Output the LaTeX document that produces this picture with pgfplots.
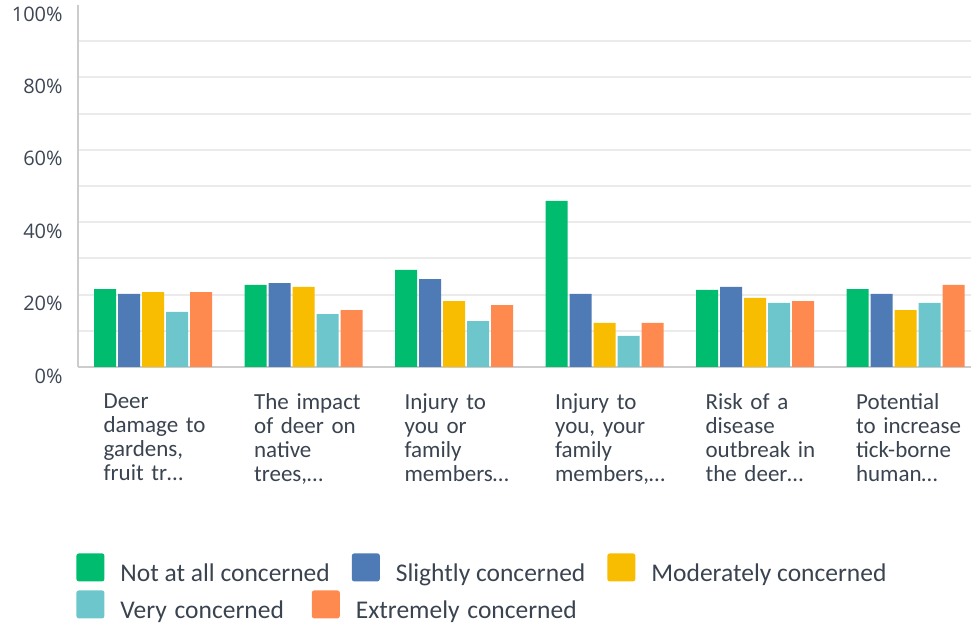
\documentclass[border=0pt]{standalone}
\usepackage{pgfplots}
\pgfplotsset{compat=1.18}
\usepackage{fontspec}
\setmainfont{Carlito}
\newfontfamily\tickfont{Open Sans}
\definecolor{cgreen}{HTML}{00BC6E}
\definecolor{cblue}{HTML}{4E7AB5}
\definecolor{cyellow}{HTML}{F8BC00}
\definecolor{cteal}{HTML}{6CC6CB}
\definecolor{corange}{HTML}{FF8A50}
\definecolor{gridgray}{HTML}{EBEBEB}
\definecolor{axisgray}{HTML}{CCCCCC}
\definecolor{tickcol}{HTML}{3D4654}
\definecolor{labcol}{HTML}{3A4350}
\pgfplotsset{
  swatch legend/.style={legend image code/.code={%
    \fill[##1, draw=none, rounded corners=1.2pt] (0pt,-3.5pt) rectangle (14pt,10.5pt);}},
  mybar/.style={ybar, bar width=11pt, draw=none, swatch legend},
  mylegend/.style={draw=none, fill=none, inner sep=0pt, cells={anchor=west},
    nodes={inner sep=0pt}, font=\fontsize{12.75}{15}\selectfont, text=labcol,
    /tikz/every odd column/.append style={column sep=8pt}}
}
\begin{document}
\begin{tikzpicture}
\useasboundingbox (-39pt,-129pt) rectangle (446.5pt,183.5pt);
\begin{axis}[
  at={(0,0)}, anchor=south west,
  scale only axis, width=446.5pt, height=181pt,
  xmin=0, xmax=5.934, ymin=0, ymax=100,
  axis x line=bottom, axis y line=left,
  axis line style={-, draw=axisgray, line width=1pt},
  ytick={0,20,40,60,80,100},
  yticklabels={0\%,20\%,40\%,60\%,80\%,100\%},
  minor ytick={10,20,30,40,50,60,70,80,90}, yminorgrids,
  minor grid style={draw=gridgray, line width=1pt},
  major tick length=0pt, minor tick length=0pt,
  yticklabel style={font=\tickfont\fontsize{10}{12}\selectfont, text=tickcol,
    anchor=east, inner sep=0pt, xshift=-7.5pt, yshift=-4.5pt},
  xtick={0.5,1.5,2.5,3.5,4.5,5.5},
  xticklabels={
    {Deer\\damage to\\gardens,\\fruit tr…},
    {The impact\\of deer on\\native\\trees,…},
    {Injury to\\you or\\family\\members…},
    {Injury to\\you, your\\family\\members,…},
    {Risk of a\\disease\\outbreak in\\the deer…},
    {Potential\\to increase\\tick-borne\\human…}},
  xticklabel style={font=\fontsize{11.5}{12}\selectfont, text=labcol,
    anchor=north west, align=left, text width=62pt, inner sep=0pt,
    xshift=-25pt, yshift=-13pt},
  legend columns=3,
  legend style={mylegend, at={(-0.00224,-0.5138)}, anchor=north west,
    /tikz/every even column/.append style={column sep=11pt}},
]
\addplot[mybar, bar shift=-24pt, fill=cgreen] coordinates
  {(0.5,21.5) (1.5,22.7) (2.5,26.8) (3.5,45.9) (4.5,21.3) (5.5,21.5)};
\addplot[mybar, bar shift=-12pt, fill=cblue] coordinates
  {(0.5,20.2) (1.5,23.2) (2.5,24.3) (3.5,20.2) (4.5,22.1) (5.5,20.2)};
\addplot[mybar, bar shift=0pt, fill=cyellow] coordinates
  {(0.5,20.7) (1.5,22.1) (2.5,18.2) (3.5,12.2) (4.5,19.1) (5.5,15.7)};
\addplot[mybar, bar shift=12pt, fill=cteal] coordinates
  {(0.5,15.2) (1.5,14.6) (2.5,12.7) (3.5,8.6) (4.5,17.7) (5.5,17.7)};
\addplot[mybar, bar shift=24pt, fill=corange] coordinates
  {(0.5,20.7) (1.5,15.7) (2.5,17.1) (3.5,12.2) (4.5,18.2) (5.5,22.7)};
\legend{Not at all concerned, Slightly concerned, Moderately concerned}
\end{axis}
\begin{axis}[
  at={(0,0)}, anchor=south west,
  scale only axis, width=446.5pt, height=181pt,
  xmin=0, xmax=1, ymin=0, ymax=1, hide axis, swatch legend,
  legend columns=2,
  legend style={mylegend, at={(-0.00224,-0.616)}, anchor=north west,
    /tikz/every even column/.append style={column sep=14pt}},
]
\addlegendimage{fill=cteal}
\addlegendentry{Very\hspace{1pt} concerned}
\addlegendimage{fill=corange}
\addlegendentry{Extremely\hspace{1pt} concerned}
\end{axis}
\end{tikzpicture}
\end{document}
